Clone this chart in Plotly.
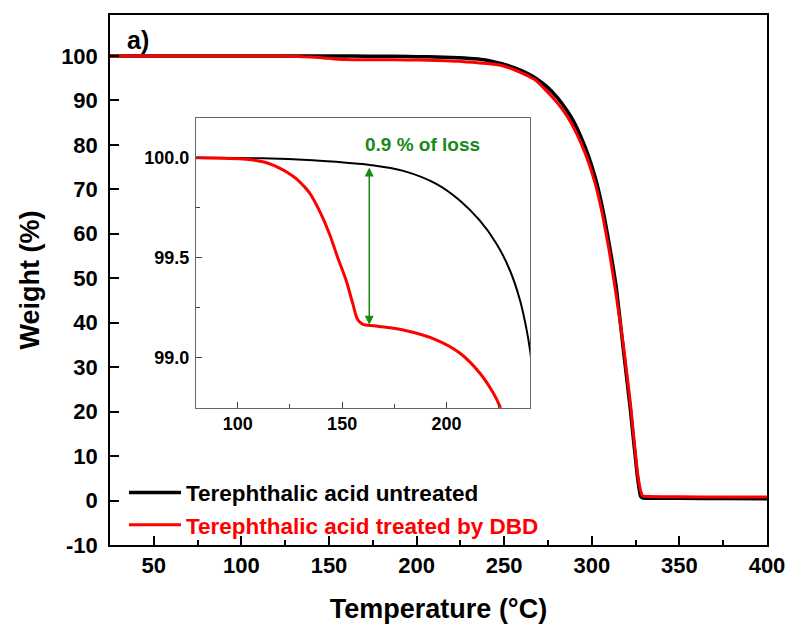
import plotly.graph_objects as go

# ---- data ----
T_untreated = [25, 80, 112, 135.9, 151.9, 163.4, 179.3, 195.3, 206.5, 216, 224, 230.4, 235.2,
               238.4, 240, 245, 250, 256, 262, 268, 274, 280, 286, 290, 294, 298, 302, 306,
               310, 314, 318, 322, 326, 327.8, 329, 332, 350, 375, 400]
W_untreated = [100.0, 100.0, 99.997, 99.987, 99.975, 99.964, 99.934, 99.868, 99.785, 99.685,
               99.569, 99.436, 99.287, 99.138, 99.038, 98.6, 98.1, 97.3, 96.3, 95.0, 93.2,
               90.8, 87.6, 85.0, 81.6, 77.6, 72.6, 66.0, 57.5, 47.8, 34.0, 20.5, 5.5, 1.0,
               0.6, 0.5, 0.5, 0.45, 0.4]

T_treated = [25, 60, 80, 104, 112, 116, 120, 124, 128, 131, 134.3, 139.1, 143.9, 147.9, 151.9,
             155.1, 157.5, 159.8, 166.2, 179.3, 195.3, 206.5, 216, 222.4, 225.6, 232, 240, 248,
             255, 262, 268, 274, 280, 286, 290, 294, 298, 302, 306, 310, 314, 318, 322, 326,
             328, 329.2, 332, 350, 375, 400]
W_treated = [100.0, 100.0, 100.0, 99.992, 99.98, 99.967, 99.948, 99.925, 99.895, 99.865,
             99.825, 99.735, 99.62, 99.50, 99.387, 99.27, 99.19, 99.168, 99.158, 99.138,
             99.088, 99.022, 98.922, 98.823, 98.756, 98.55, 98.3, 97.9, 97.0, 95.8, 94.5,
             92.2, 89.6, 86.4, 83.6, 80.2, 76.2, 71.2, 64.5, 56.0, 46.0, 35.0, 22.0, 6.5,
             2.0, 1.0, 0.9, 0.85, 0.8, 0.8]

names = ["Terephthalic acid untreated", "Terephthalic acid treated by DBD"]
main_x_ticks = [50, 100, 150, 200, 250, 300, 350, 400]
main_y_ticks = [-10, 0, 10, 20, 30, 40, 50, 60, 70, 80, 90, 100]
main_y_labels = ["-10", "0", "10", "20", "30", "40", "50", "60", "70", "80", "90", "100"]
inset_x_ticks = [100, 150, 200]
inset_y_ticks = [99.0, 99.5, 100.0]
loss_T = 163
loss_top = 99.958
loss_bottom = 99.165
loss_label = "0.9 % of loss"

FONT = "Liberation Sans"
GREEN = "#178a17"

fig = go.Figure()
fig.add_trace(go.Scatter(x=T_untreated, y=W_untreated, mode="lines", name=names[0],
                         line=dict(color="black", width=3.5, shape="spline", smoothing=0.4)))
fig.add_trace(go.Scatter(x=T_treated, y=W_treated, mode="lines",
                         name='<span style="color:#ff0000">' + names[1] + "</span>",
                         line=dict(color="#ff0000", width=3, shape="spline", smoothing=0.4)))
# inset
fig.add_trace(go.Scatter(x=T_untreated, y=W_untreated, mode="lines", showlegend=False,
                         xaxis="x2", yaxis="y2",
                         line=dict(color="black", width=2, shape="spline", smoothing=1)))
fig.add_trace(go.Scatter(x=T_treated, y=W_treated, mode="lines", showlegend=False,
                         xaxis="x2", yaxis="y2",
                         line=dict(color="#ff0000", width=3, shape="spline", smoothing=1)))

tickfont_main = dict(family=FONT, size=22, color="black", weight="bold")
tickfont_inset = dict(family=FONT, size=18, color="black", weight="bold")

fig.update_layout(
    width=787, height=624,
    margin=dict(l=110, r=20, t=15, b=79, autoexpand=False),
    paper_bgcolor="white", plot_bgcolor="white",
    showlegend=True,
    legend=dict(x=0.0213, xanchor="left", y=0.068, yanchor="middle",
                font=dict(family=FONT, size=22.5, color="black", weight="bold"),
                bgcolor="rgba(0,0,0,0)", borderwidth=0, tracegroupgap=0,
                itemwidth=52),
    xaxis=dict(range=[25, 400], domain=[0, 1], tickvals=main_x_ticks, automargin=False,
               showline=True, linecolor="black", linewidth=1.5, mirror=True,
               ticks="inside", ticklen=9, tickwidth=1.5, tickcolor="black",
               minor=dict(dtick=25, tick0=0, ticks="inside", ticklen=5, tickwidth=1.5,
                          tickcolor="black"),
               showgrid=False, zeroline=False, tickfont=tickfont_main, ticklabelstandoff=0,
               title=dict(text="Temperature (°C)", standoff=24,
                          font=dict(family=FONT, size=27, color="black", weight="bold"))),
    yaxis=dict(range=[-10, 109.2], domain=[0, 1], tickvals=main_y_ticks, ticktext=main_y_labels,
               automargin=False,
               showline=True, linecolor="black", linewidth=1.5, mirror=True,
               ticks="inside", ticklen=9, tickwidth=1.5, tickcolor="black",
               showgrid=False, zeroline=False, tickfont=tickfont_main, ticklabelstandoff=6,
               title=dict(text="Weight (%)", standoff=14,
                          font=dict(family=FONT, size=27, color="black", weight="bold"))),
    xaxis2=dict(range=[80, 240], domain=[0.1309, 0.6393], anchor="y2", tickvals=inset_x_ticks,
                automargin=False,
                showline=True, linecolor="#666666", linewidth=1.2, mirror=True,
                ticks="inside", ticklen=6, tickwidth=1.2, tickcolor="#444444",
                minor=dict(dtick=25, tick0=0, ticks="inside", ticklen=4, tickwidth=1.2,
                           tickcolor="#444444"),
                showgrid=False, zeroline=False, tickfont=tickfont_inset, ticklabelstandoff=0),
    yaxis2=dict(range=[98.75, 100.2], domain=[0.2591, 0.8062], anchor="x2",
                tickvals=inset_y_ticks, tickformat=".1f", automargin=False,
                showline=True, linecolor="#666666", linewidth=1.2, mirror=True,
                ticks="inside", ticklen=6, tickwidth=1.2, tickcolor="#444444",
                minor=dict(dtick=0.25, tick0=0, ticks="inside", ticklen=4, tickwidth=1.2,
                           tickcolor="#444444"),
                showgrid=False, zeroline=False, tickfont=tickfont_inset, ticklabelstandoff=2),
)

fig.add_annotation(x=0.0426, y=0.9528, xref="paper", yref="paper", text="a)",
                   xanchor="center", yanchor="middle",
                   showarrow=False, font=dict(family=FONT, size=25, color="black", weight="bold"))
fig.add_annotation(x=188.5, y=100.067, xref="x2", yref="y2", text=loss_label,
                   xanchor="center", yanchor="middle",
                   showarrow=False, font=dict(family=FONT, size=19, color=GREEN, weight="bold"))
fig.add_annotation(x=loss_T, y=loss_bottom, xref="x2", yref="y2",
                   ax=loss_T, ay=loss_top, axref="x2", ayref="y2", text="",
                   showarrow=True, arrowhead=2, startarrowhead=2, arrowside="end+start",
                   arrowsize=1.2, startarrowsize=1.2, arrowwidth=1.5, arrowcolor=GREEN,
                   standoff=0, startstandoff=0)

fig.write_html("out.html")
